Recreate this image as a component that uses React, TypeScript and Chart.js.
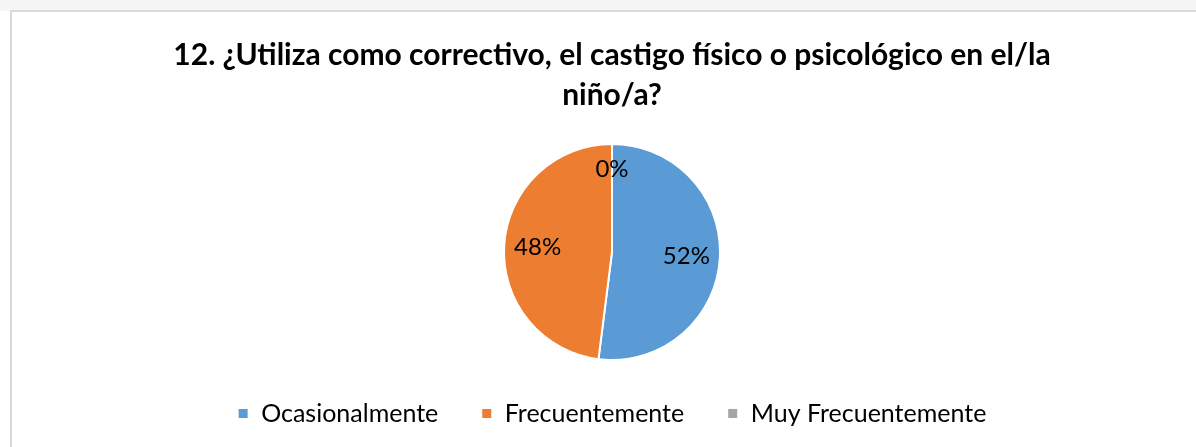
import React, { useEffect, useRef } from "react";
import { Chart, registerables } from "chart.js";

Chart.register(...registerables);

const titleLines = [
  "12. ¿Utiliza como correctivo, el castigo físico o psicológico en el/la",
  "niño/a?",
];
const categories = ["Ocasionalmente", "Frecuentemente", "Muy Frecuentemente"];
const values = [52, 48, 0];
const colors = ["#5B9BD5", "#ED7D31", "#A5A5A5"];

const FONT = "Lato, 'Open Sans', sans-serif";

const pctLabels = {
  id: "pctLabels",
  afterDatasetsDraw(chart: any) {
    const ctx = chart.ctx;
    const meta = chart.getDatasetMeta(0);
    const data = chart.data.datasets[0].data as number[];
    const total = data.reduce((a: number, b: number) => a + b, 0);
    ctx.save();
    ctx.font = `24px ${FONT}`;
    ctx.fillStyle = "#000";
    ctx.textAlign = "center";
    ctx.textBaseline = "middle";
    meta.data.forEach((arc: any, i: number) => {
      const { x, y, startAngle, endAngle, outerRadius } = arc.getProps(
        ["x", "y", "startAngle", "endAngle", "outerRadius"],
        true
      );
      const mid = (startAngle + endAngle) / 2;
      const pct = Math.round((data[i] / total) * 100);
      const f = pct < 5 ? 0.77 : 0.69;
      ctx.fillText(
        pct + "%",
        x + Math.cos(mid) * outerRadius * f,
        y + Math.sin(mid) * outerRadius * f
      );
    });
    ctx.restore();
  },
};

export default function App() {
  const ref = useRef<HTMLCanvasElement>(null);
  useEffect(() => {
    if (!ref.current) return;
    const chart = new Chart(ref.current, {
      type: "pie",
      data: {
        labels: categories,
        datasets: [
          {
            data: values,
            backgroundColor: colors,
            borderColor: "#ffffff",
            borderWidth: 2,
            radius: 108,
          } as any,
        ],
      },
      options: {
        responsive: false,
        animation: false,
        events: [],
        layout: { padding: { top: 0, bottom: 11, left: 0, right: 0 } },
        plugins: {
          title: {
            display: true,
            text: titleLines,
            color: "#000",
            font: { family: FONT, size: 30, weight: "bold", lineHeight: 1.3333 },
            padding: { top: 23, bottom: 31 },
          },
          legend: {
            position: "bottom",
            labels: {
              boxWidth: 11,
              boxHeight: 11,
              padding: 43,
              color: "#000",
              font: { family: FONT, size: 25 },
            },
          },
          tooltip: { enabled: false },
        },
      },
      plugins: [pctLabels],
    });
    return () => chart.destroy();
  }, []);

  return (
    <div
      style={{
        position: "fixed",
        left: 0,
        top: 0,
        width: 1196,
        height: 447,
        overflow: "hidden",
        background: "#ffffff",
      }}
    >
      <div
        style={{
          position: "absolute",
          left: 0,
          top: 0,
          width: 1196,
          height: 11,
          background: "#f6f4f4",
        }}
      />
      <div
        style={{
          position: "absolute",
          left: 10,
          top: 10,
          width: 1220,
          height: 460,
          borderLeft: "2px solid #d9d9d9",
          borderTop: "2px solid #d9d9d9",
          background: "#ffffff",
        }}
      />
      <canvas
        ref={ref}
        width={1200}
        height={435}
        style={{ position: "absolute", left: 12, top: 12, width: 1200, height: 435 }}
      />
    </div>
  );
}
